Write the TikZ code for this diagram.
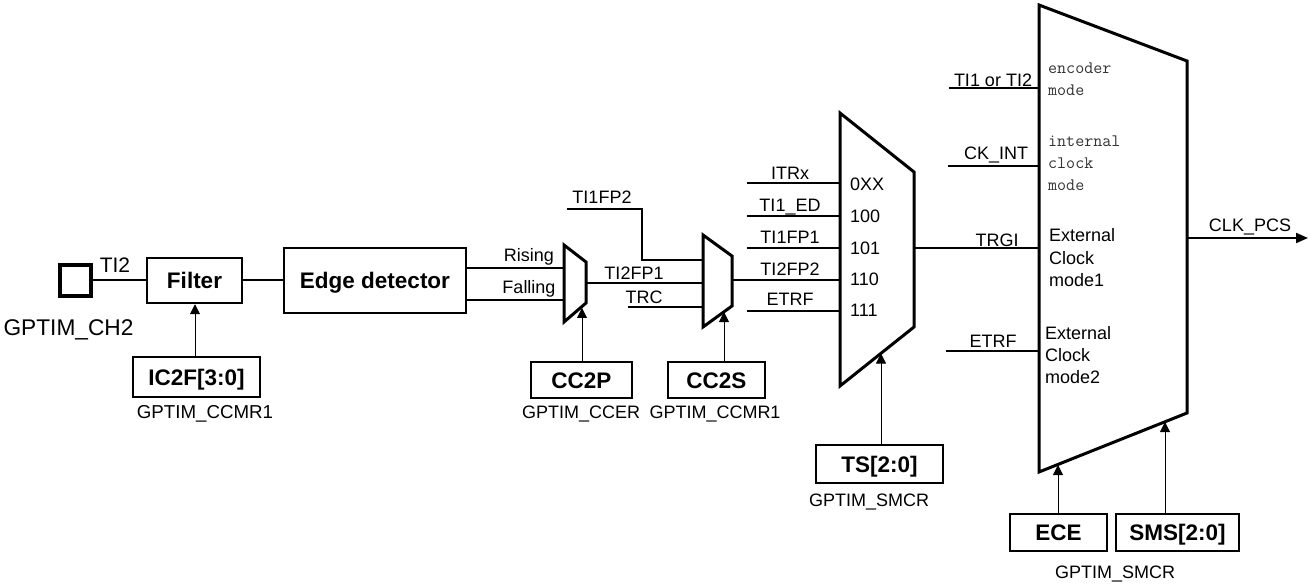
\documentclass[tikz,border=0pt]{standalone}
\usepackage{fontspec}
\setmainfont{Liberation Sans}
\usetikzlibrary{arrows.meta,calc}
\begin{document}
\begin{tikzpicture}[x=1pt,y=-1pt,
  bbox/.style={draw, line width=2.5pt, inner sep=0pt, font=\bfseries\fontsize{22.5}{22.5}\selectfont, text height=16.1pt, text depth=0pt},
  lbl/.style={inner sep=0pt, font=\fontsize{18}{18}\selectfont, text height=12.9pt, text depth=0pt},
  wire/.style={line width=2pt},
  ctrl/.style={line width=0.8pt, -{Triangle[length=10pt,width=10pt]}},
  mux/.style={line width=3pt, line join=miter},
  mono/.style={inner sep=0pt, anchor=base west, text=black!80, font=\ttfamily\fontsize{17.5}{17.5}\selectfont},
  ext/.style={lbl, anchor=west}
]
\useasboundingbox (0,0) rectangle (1309,585);

% ---------- boxes ----------
\node[draw, line width=4pt, minimum size=31pt, inner sep=0pt] (sq) at (75.5,280.5) {};
\node[bbox, minimum width=95pt, minimum height=45pt] (filter) at (194.5,280.5) {Filter};
\node[bbox, minimum width=182pt, minimum height=65pt] (edge) at (375,280.5) {Edge detector};
\node[bbox, minimum width=127pt, minimum height=40pt] (ic2f) at (196.5,377) {IC2F[3:0]};
\node[bbox, minimum width=101pt, minimum height=36pt] (cc2p) at (581.5,380) {CC2P};
\node[bbox, minimum width=97pt, minimum height=36pt] (cc2s) at (716.5,380) {CC2S};
\node[bbox, minimum width=127pt, minimum height=38pt] (ts) at (879.5,464) {TS[2:0]};
\node[bbox, minimum width=97pt, minimum height=37pt] (ece) at (1058.5,532.5) {ECE};
\node[bbox, minimum width=123pt, minimum height=37pt] (sms) at (1177.5,532.5) {SMS[2:0]};

% ---------- multiplexers ----------
\coordinate (m1a) at (564,245); \coordinate (m1b) at (586,262);
\coordinate (m1c) at (586,303); \coordinate (m1d) at (564,322);
\draw[mux] (m1a)--(m1b)--(m1c)--(m1d)--cycle;
\coordinate (m2a) at (703,235); \coordinate (m2b) at (732,256);
\coordinate (m2c) at (732,306); \coordinate (m2d) at (703,327);
\draw[mux] (m2a)--(m2b)--(m2c)--(m2d)--cycle;
\coordinate (m3a) at (840,113); \coordinate (m3b) at (914,172);
\coordinate (m3c) at (914,327); \coordinate (m3d) at (840,386);
\draw[mux] (m3a)--(m3b)--(m3c)--(m3d)--cycle;
\coordinate (bma) at (1039,5); \coordinate (bmb) at (1187,61);
\coordinate (bmc) at (1187,413); \coordinate (bmd) at (1039,472);
\draw[mux] (bma)--(bmb)--(bmc)--(bmd)--cycle;

% ---------- wires, left part ----------
\draw[wire] (sq.east) -- (filter.west);
\draw[wire] (filter.east) -- (edge.west);
\coordinate (m1r) at (564,268); \coordinate (m1f) at (564,300);
\draw[wire] (edge.east |- m1r) -- (m1r);
\draw[wire] (edge.east |- m1f) -- (m1f);
\coordinate (m1o) at (586,283); \coordinate (m2i1) at (703,283);
\draw[wire] (m1o) -- (m2i1);
\coordinate (tifp2) at (567,209); \coordinate (m2i0) at (703,260);
\draw[wire] (tifp2) -| (642,260) -- (m2i0);
\coordinate (trc) at (628,307); \coordinate (m2i2) at (703,307);
\draw[wire] (trc) -- (m2i2);
\coordinate (m2o) at (732,280); \coordinate (m3i3) at (840,280);
\draw[wire] (m2o) -- (m3i3);

% ---------- mux3 inputs ----------
\foreach \y/\n in {183/0,216/1,248/2,311/4}{
  \coordinate (m3s\n) at (747,\y); \coordinate (m3e\n) at (840,\y);
  \draw[wire] (m3s\n) -- (m3e\n);
}
\coordinate (m3o) at (914,248); \coordinate (bmi2) at (1039,248);
\draw[wire] (m3o) -- (bmi2);

% ---------- big mux inputs / output ----------
\coordinate (bms0) at (949,88);  \coordinate (bmi0) at (1039,88);
\coordinate (bms1) at (948,166); \coordinate (bmi1) at (1039,166);
\coordinate (bms3) at (946,351); \coordinate (bmi3) at (1039,351);
\draw[wire] (bms0) -- (bmi0);
\draw[wire] (bms1) -- (bmi1);
\draw[wire] (bms3) -- (bmi3);
\coordinate (bmo) at (1187,238); \coordinate (clk) at (1308,238);
\draw[wire, -{Triangle[length=12pt,width=10pt]}] (bmo) -- (clk);

% ---------- control arrows ----------
\draw[ctrl] (ic2f.north -| 195,0) -- (195,0 |- filter.south);
\coordinate (m1s) at (582,308);
\draw[ctrl] (cc2p.north -| m1s) -- (m1s);
\coordinate (m2s) at (724,312);
\draw[ctrl] (cc2s.north -| m2s) -- (m2s);
\coordinate (m3s) at (881,353.5);
\draw[ctrl] (ts.north -| m3s) -- (m3s);
\coordinate (bmsa) at (1058,465);
\draw[ctrl] (ece.north -| bmsa) -- (bmsa);
\coordinate (bmsb) at (1165,422);
\draw[ctrl] (sms.north -| bmsb) -- (bmsb);

% ---------- labels ----------
\node[lbl, font=\fontsize{21}{21}\selectfont, text height=15pt] (lti2) at (115,265) {TI2};
\node[lbl, font=\fontsize{22.7}{22.7}\selectfont, text height=16.3pt] (lch2) at (68.5,327) {GPTIM\_CH2};
\node[lbl, font=\fontsize{18.7}{18.7}\selectfont, text height=13.4pt] (lccmr1a) at (205,412) {GPTIM\_CCMR1};
\node[lbl] (lrise) at (529,255) {Rising};
\node[lbl] (lfall) at (529,287) {Falling};
\node[lbl] (lti2fp1) at (634,273) {TI2FP1};
\node[lbl] (ltrc) at (644,297) {TRC};
\node[lbl] (lti1fp2) at (602,197) {TI1FP2};
\node[lbl] (lccer) at (581,412) {GPTIM\_CCER};
\node[lbl] (lccmr1b) at (715,412) {GPTIM\_CCMR1};

\node[lbl] (litrx) at (790,173) {ITRx};
\node[lbl] (lti1ed) at (790,205) {TI1\_ED};
\node[lbl] (lti1fp1) at (790,237) {TI1FP1};
\node[lbl] (lti2fp2) at (790,269) {TI2FP2};
\node[lbl] (letrf1) at (790,299) {ETRF};
\node[ext] (s0) at (850,184) {0XX};
\node[ext] (s1) at (850,216) {100};
\node[ext] (s2) at (850,248) {101};
\node[ext] (s3) at (850,279) {110};
\node[ext] (s4) at (850,310) {111};
\node[lbl] (lsmcr1) at (869,500) {GPTIM\_SMCR};

\node[lbl] (lti12) at (993,80) {TI1 or TI2};
\node[lbl] (lckint) at (996,153) {CK\_INT};
\node[lbl] (ltrgi) at (997,240) {TRGI};
\node[lbl] (letrf2) at (993,341) {ETRF};
\node[mono] (e1) at (1048,73.5) {encoder};
\node[mono] (e2) at (1048,95.5) {mode};
\node[mono] (i1) at (1048,147) {internal};
\node[mono] (i2) at (1048,169) {clock};
\node[mono] (i3) at (1048,191) {mode};
\node[ext] (x1) at (1049,235) {External};
\node[ext] (x2) at (1049,258) {Clock};
\node[ext] (x3) at (1049,280) {mode1};
\node[ext] (y1) at (1045,333) {External};
\node[ext] (y2) at (1045,355) {Clock};
\node[ext] (y3) at (1045,377) {mode2};
\node[lbl] (lclk) at (1250,225) {CLK\_PCS};
\node[lbl] (lsmcr2) at (1115,572) {GPTIM\_SMCR};
\end{tikzpicture}
\end{document}
